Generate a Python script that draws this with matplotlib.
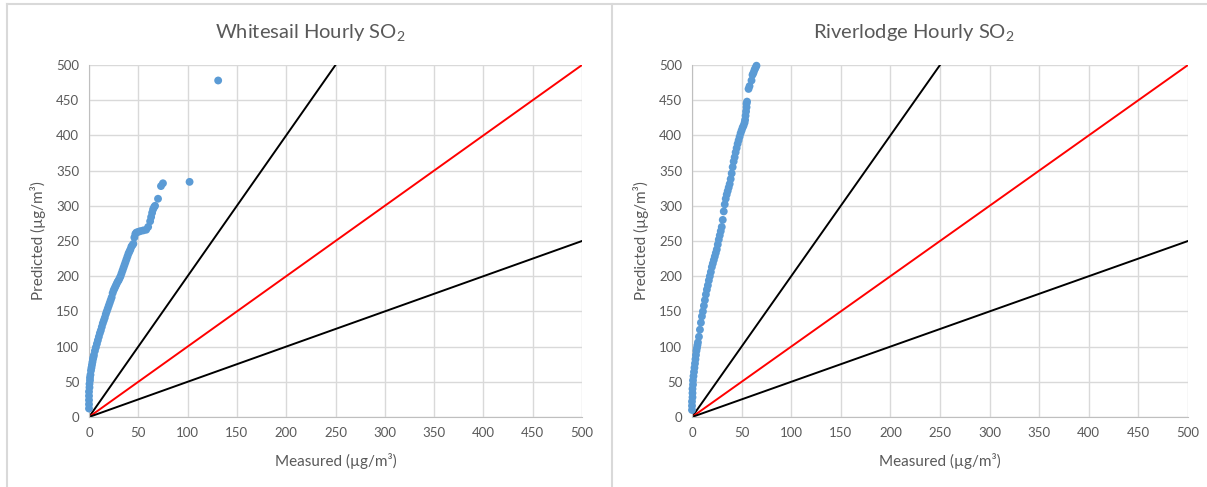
import numpy as np
import matplotlib
matplotlib.use('Agg')
import matplotlib.pyplot as plt
from matplotlib.lines import Line2D

plt.rcParams['font.family'] = ['Lato', 'DejaVu Sans']
plt.rcParams['mathtext.fontset'] = 'custom'
plt.rcParams['mathtext.rm'] = 'Lato'

# Whitesail: measured vs predicted (sorted pairs)
ws_meas = [0, 0, 0, 0, 0, 0.5, 0.5, 1, 1, 1.5, 2, 2.5, 3, 3.5, 4, 4.5, 5,
           6, 7, 8, 9, 10, 11, 12, 13, 14, 15, 16, 17, 18, 19, 20, 21, 22, 23, 24, 25,
           26, 27, 28, 29, 30, 31, 32, 33, 34, 35, 36, 37, 38, 39, 40, 41, 42, 43, 44, 45,
           46, 47, 48,
           50, 52, 55, 58, 60, 62, 63, 64, 65, 66,
           67, 70, 73, 75, 102, 131]
ws_pred = [12, 18, 24, 30, 36, 42, 47, 52, 56, 60, 66, 70, 74, 78, 82, 85, 88,
           94, 99, 104, 109, 114, 119, 123, 128, 133, 137, 141, 146, 150, 154, 158, 162, 166, 170, 176, 180,
           183, 186, 189, 192, 194, 197, 200, 204, 208, 212, 216, 220, 224, 228, 232, 235, 238, 242, 244, 246,
           255, 260, 262,
           263, 264, 265, 266, 270, 278, 284, 290, 295, 298,
           300, 310, 328, 332, 334, 478]

# Riverlodge
rl_meas = [0, 0, 0, 0.5, 0.5, 0.5, 1, 1, 1.5, 2, 2.5, 3, 3.5, 4, 4.5, 5, 5.5,
           6, 7, 8, 9, 10, 11, 12, 13, 14, 15, 16, 17, 18, 19, 20, 21, 22, 23, 24, 25,
           26, 27, 28, 29, 30, 31, 32, 33, 34, 35, 36, 37, 38, 39, 40, 41, 42, 43, 44, 45,
           46, 47, 48, 49, 50, 51, 52, 53,
           53.5, 54, 54.5, 55, 55, 55.5,
           57, 58, 60, 61, 62, 63, 64, 65]
rl_pred = [10, 16, 22, 28, 34, 40, 46, 52, 58, 64, 70, 76, 82, 88, 94, 98, 102,
           106, 114, 124, 134, 143, 150, 158, 166, 174, 181, 187, 194, 200, 206, 213, 218, 223, 228, 233, 238,
           245, 252, 258, 264, 270, 280, 292, 302, 310, 316, 321, 326, 331, 338, 346, 355, 363, 369, 376, 382,
           388, 393, 398, 403, 407, 411, 414, 418,
           422, 428, 434, 440, 445, 448,
           466, 470, 478, 486, 489, 493, 496, 499]

# reference lines: 2:1, 1:1, 1:2
line_x = [[0, 250], [0, 500], [0, 500]]
line_y = [[0, 500], [0, 500], [0, 250]]
line_colors = ['black', 'red', 'black']

ticks = list(range(0, 501, 50))
TXT = '#595959'
GRID = '#d9d9d9'
DOT = '#5b9bd5'

W, H = 1207, 487
fig = plt.figure(figsize=(W / 100, H / 100), dpi=100)


def px_axes(x0, x1, y_top, y_bot):
    return fig.add_axes([x0 / W, 1 - y_bot / H, (x1 - x0) / W, (y_bot - y_top) / H])


panels = [
    ('Whitesail', ws_meas, ws_pred, (89, 582), 310),
    ('Riverlodge', rl_meas, rl_pred, (692, 1188), 914),
]

for name, meas, pred, (x0, x1), tx in panels:
    ax = px_axes(x0, x1, 65, 417)
    ax.set_xlim(0, 500)
    ax.set_ylim(0, 500)
    ax.set_xticks(ticks)
    ax.set_yticks(ticks)
    ax.grid(True, color=GRID, lw=1)
    ax.set_axisbelow(True)
    for s in ['top', 'right']:
        ax.spines[s].set_visible(False)
    for s in ['left', 'bottom']:
        ax.spines[s].set_color('#bfbfbf')
    ax.tick_params(length=0, colors=TXT, labelsize=9.5, pad=7)
    for lx, ly, c in zip(line_x, line_y, line_colors):
        ax.plot(lx, ly, color=c, lw=1.4, zorder=2)
    ax.scatter(meas, pred, s=32, color=DOT, edgecolors='none', zorder=3, clip_on=False)
    ax.set_xlabel('Measured (µg/m³)', color=TXT, fontsize=11, labelpad=10)
    ax.set_ylabel('Predicted (µg/m³)', color=TXT, fontsize=11, labelpad=7)
    fig.text(tx / W, 1 - 33 / H, name + ' Hourly SO$_2$', color=TXT, fontsize=14.5,
             ha='center', va='center')

# chart borders
for x in (7, 612):
    fig.add_artist(Line2D([x / W, x / W], [0, 1 - 4 / H], color=GRID, lw=1.5))
fig.add_artist(Line2D([7 / W, 1], [1 - 4 / H, 1 - 4 / H], color=GRID, lw=1.5))

fig.savefig('out.png', dpi=100)
